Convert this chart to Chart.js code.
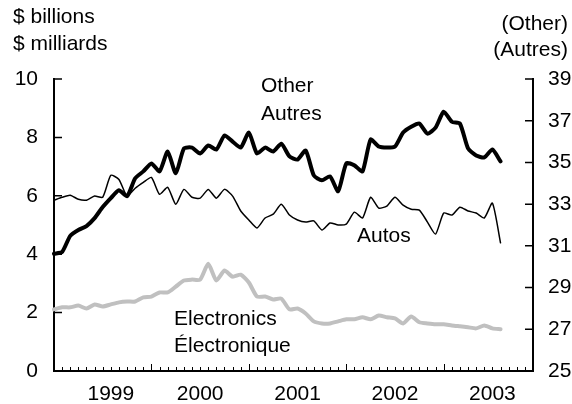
<!DOCTYPE html>
<html>
<head>
<meta charset="utf-8">
<script src="https://cdn.jsdelivr.net/npm/chart.js@4"></script>
<style>
    html, body { margin: 0; padding: 0; background: #fff; }
    canvas { display: block; }
</style>
</head>
<body>
<canvas id="importsChart" width="572" height="404"></canvas>
<script>
// monthly, Jan 1999 .. Aug 2003 ($ billions)
const years = ['1999', '2000', '2001', '2002', '2003'];
const other = [30.62, 30.71, 31.48, 31.76, 31.95, 32.33, 32.86, 33.29, 33.67, 33.38, 34.24, 34.57,
    34.95, 34.57, 35.52, 34.48, 35.67, 35.71, 35.43, 35.81, 35.62, 36.29, 36.0, 35.71,
    36.43, 35.43, 35.71, 35.52, 35.9, 35.29, 35.14, 35.57, 34.38, 34.14, 34.33, 33.62,
    34.95, 34.86, 34.57, 36.1, 35.76, 35.71, 35.76, 36.43, 36.71, 36.86, 36.38, 36.67,
    37.43, 36.95, 36.86, 35.67, 35.33, 35.24, 35.62, 35.05];
const autos = [5.85, 5.95, 6.02, 5.88, 5.85, 5.99, 5.95, 6.70, 6.56, 5.99, 6.26, 6.46,
    6.63, 6.05, 6.29, 5.71, 6.22, 5.95, 5.92, 6.22, 5.92, 6.22, 5.99, 5.48,
    5.17, 4.90, 5.24, 5.37, 5.71, 5.34, 5.17, 5.10, 5.14, 4.83, 5.07, 5.00,
    5.03, 5.44, 5.24, 5.95, 5.58, 5.65, 5.95, 5.68, 5.54, 5.51, 5.10, 4.69,
    5.41, 5.34, 5.61, 5.48, 5.41, 5.24, 5.75, 4.39];
const electronics = [2.11, 2.18, 2.18, 2.24, 2.14, 2.28, 2.21, 2.28, 2.35, 2.38, 2.38, 2.52,
    2.55, 2.69, 2.69, 2.89, 3.10, 3.13, 3.13, 3.67, 3.10, 3.44, 3.23, 3.30,
    3.03, 2.55, 2.55, 2.45, 2.48, 2.11, 2.14, 1.97, 1.70, 1.63, 1.63, 1.70,
    1.77, 1.77, 1.84, 1.77, 1.90, 1.84, 1.80, 1.63, 1.87, 1.67, 1.63, 1.60,
    1.60, 1.56, 1.53, 1.50, 1.46, 1.56, 1.46, 1.43];
// month index where each year label sits
const yearTickIndex = [7, 18, 30, 42, 54];

let months = [];
for (let i = 0; i < years.length; i++) {
    for (let m = 1; m <= 12; m++) {
        months.push(years[i] + '-' + String(m).padStart(2, '0'));
    }
}

const FONT = '"Liberation Sans", Arial, Helvetica, sans-serif';

const notes = [
    {text: '$ billions', x: 13, y: 23, align: 'left'},
    {text: '$ milliards', x: 13, y: 49.5, align: 'left'},
    {text: '(Other)', x: 568, y: 29.5, align: 'right'},
    {text: '(Autres)', x: 568, y: 56, align: 'right'},
    {text: 'Other', x: 261, y: 92, align: 'left'},
    {text: 'Autres', x: 261, y: 119.5, align: 'left'},
    {text: 'Autos', x: 357, y: 241.5, align: 'left'},
    {text: 'Electronics', x: 174, y: 325, align: 'left'},
    {text: 'Électronique', x: 174, y: 352, align: 'left'}
];

// inward tick marks + text labels
const frame = {
    id: 'frame',
    afterDraw(chart) {
        const {ctx, chartArea: a, scales} = chart;
        ctx.save();
        ctx.strokeStyle = '#000';
        ctx.lineWidth = 1;
        ctx.beginPath();
        for (let i = 1; i < months.length - 1; i++) {
            const px = Math.round(scales.x.getPixelForValue(i)) + 0.5;
            const len = i % 12 === 0 ? 7 : 4;
            ctx.moveTo(px, a.bottom);
            ctx.lineTo(px, a.bottom - len);
        }
        ctx.stroke();
        ctx.lineWidth = 1.5;
        ctx.beginPath();
        scales.y.ticks.forEach(t => {
            const py = scales.y.getPixelForValue(t.value);
            ctx.moveTo(a.left, py);
            ctx.lineTo(a.left + 8, py);
        });
        scales.y2.ticks.forEach(t => {
            const py = scales.y2.getPixelForValue(t.value);
            ctx.moveTo(a.right, py);
            ctx.lineTo(a.right - 8, py);
        });
        ctx.stroke();

        ctx.fillStyle = '#000';
        ctx.font = '21px ' + FONT;
        ctx.textBaseline = 'alphabetic';
        notes.forEach(n => {
            ctx.textAlign = n.align;
            ctx.fillText(n.text, n.x, n.y);
        });
        ctx.restore();
    }
};

let ctx = document.getElementById('importsChart');
let myChart = new Chart(ctx, {
    type: 'line',
    data: {
        labels: months,
        datasets: [{
            label: 'Electronics',
            data: electronics,
            yAxisID: 'y',
            borderColor: '#c0c0c0',
            borderWidth: 4
        }, {
            label: 'Autos',
            data: autos,
            yAxisID: 'y',
            borderColor: '#000',
            borderWidth: 1.5
        }, {
            label: 'Other',
            data: other,
            yAxisID: 'y2',
            borderColor: '#000',
            borderWidth: 4
        }]
    },
    options: {
        responsive: false,
        devicePixelRatio: 1,
        animation: false,
        events: [],
        layout: {padding: {top: 79, left: 0, right: 0, bottom: 0}},
        elements: {
            point: {radius: 0},
            line: {tension: 0.2, borderJoinStyle: 'round', borderCapStyle: 'round', fill: false}
        },
        plugins: {
            legend: {display: false},
            tooltip: {enabled: false}
        },
        scales: {
            x: {
                type: 'category',
                offset: false,
                grid: {display: false, drawTicks: false},
                border: {display: true, color: '#000', width: 2},
                ticks: {
                    autoSkip: false,
                    maxRotation: 0,
                    padding: 11,
                    color: '#000',
                    font: {family: FONT, size: 21},
                    callback: function (val, i) {
                        const k = yearTickIndex.indexOf(i);
                        return k >= 0 ? years[k] : '';
                    }
                },
                afterFit: function (s) { s.height = 33; }
            },
            y: {
                position: 'left',
                min: 0,
                max: 10,
                grid: {display: false, drawTicks: false},
                border: {display: true, color: '#000', width: 2},
                ticks: {stepSize: 2, padding: 16, color: '#000', font: {family: FONT, size: 21}},
                afterFit: function (s) { s.width = 54; }
            },
            y2: {
                position: 'right',
                min: 25,
                max: 39,
                grid: {display: false, drawTicks: false},
                border: {display: true, color: '#000', width: 2},
                ticks: {stepSize: 2, padding: 15, color: '#000', font: {family: FONT, size: 21}},
                afterFit: function (s) { s.width = 39; }
            }
        }
    },
    plugins: [frame]
});
</script>
</body>
</html>
